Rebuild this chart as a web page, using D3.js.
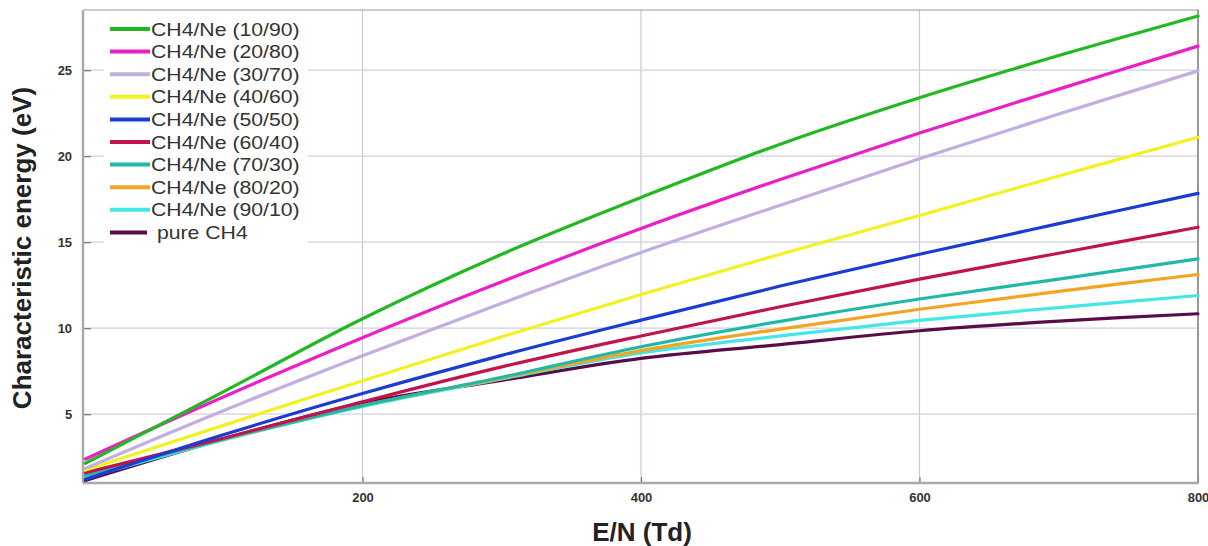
<!DOCTYPE html>
<html>
<head>
<meta charset="utf-8">
<script src="https://cdn.jsdelivr.net/npm/d3@7"></script>
<style>
  html, body { margin: 0; padding: 0; background: #fff; }
  svg { display: block; font-family: Arial, "Liberation Sans", sans-serif; }
</style>
</head>
<body>
<svg id="chart" width="1208" height="546"></svg>
<script>
// ---- data ----
const eN = [1, 100, 200, 300, 400, 500, 600, 700, 800];
const seriesNames = ["CH4/Ne (10/90)", "CH4/Ne (20/80)", "CH4/Ne (30/70)", "CH4/Ne (40/60)",
  "CH4/Ne (50/50)", "CH4/Ne (60/40)", "CH4/Ne (70/30)", "CH4/Ne (80/20)", "CH4/Ne (90/10)", " pure CH4"];
const s10_90 = [2.15, 6.3, 10.55, 14.3, 17.6, 20.7, 23.4, 25.85, 28.15];
const s20_80 = [2.4, 6.0, 9.45, 12.7, 15.8, 18.65, 21.35, 23.9, 26.4];
const s30_70 = [1.85, 5.2, 8.4, 11.45, 14.4, 17.15, 19.85, 22.45, 24.96];
const s40_60 = [1.75, 4.35, 6.95, 9.5, 11.96, 14.3, 16.55, 18.85, 21.1];
const s50_50 = [1.22, 3.8, 6.2, 8.42, 10.47, 12.45, 14.3, 16.08, 17.84];
const s60_40 = [1.6, 3.6, 5.72, 7.75, 9.55, 11.25, 12.85, 14.36, 15.87];
const s70_30 = [1.45, 3.55, 5.5, 7.15, 8.92, 10.4, 11.7, 12.85, 14.03];
const s80_20 = [1.6, 3.55, 5.5, 7.1, 8.7, 9.95, 11.1, 12.14, 13.12];
const s90_10 = [1.3, 3.5, 5.45, 7.05, 8.56, 9.55, 10.45, 11.2, 11.9];
const sPure = [1.15, 3.55, 5.65, 6.97, 8.25, 9.05, 9.85, 10.41, 10.84];
const seriesValues = [s10_90, s20_80, s30_70, s40_60, s50_50, s60_40, s70_30, s80_20, s90_10, sPure];
const seriesColors = ["#22b822", "#ec1ec8", "#c2aee0", "#f2f222", "#1a3cd2", "#c0144c",
  "#22b8a8", "#f2a424", "#44e6e6", "#5a0c48"];
const xTicks = [200, 400, 600, 800];
const yTicks = [5, 10, 15, 20, 25];

// ---- layout ----
const svg = d3.select("#chart");
const L = 84, R = 1198, T = 10, B = 483;
const x = d3.scaleLinear().domain([0, 800]).range([L, R]);
const y = d3.scaleLinear().domain([1, 28.5]).range([B, T]);

// grid
const grid = svg.append("g");
grid.selectAll("line.gx").data(xTicks.slice(0, 3)).enter().append("line")
  .attr("x1", d => x(d)).attr("x2", d => x(d)).attr("y1", T).attr("y2", B)
  .attr("stroke", "#c9c9dd").attr("stroke-width", 1.2);
grid.selectAll("line.gy").data(yTicks).enter().append("line")
  .attr("x1", L).attr("x2", R).attr("y1", d => y(d)).attr("y2", d => y(d))
  .attr("stroke", "#d0d0e2").attr("stroke-width", 1.2);

// legend background (covers grid)
svg.append("rect").attr("x", 104).attr("y", 13).attr("width", 204).attr("height", 232).attr("fill", "#fff");

// axes
const xAxis = d3.axisBottom(x).tickValues(xTicks).tickSize(-6).tickPadding(10);
const gx = svg.append("g").attr("transform", `translate(0,${B})`).call(xAxis);
const yAxis = d3.axisLeft(y).tickValues(yTicks).tickSize(-7).tickPadding(8);
const gy = svg.append("g").attr("transform", `translate(${L},0)`).call(yAxis);
[gx, gy].forEach(g => {
  g.select(".domain").remove();
  g.selectAll(".tick line").attr("stroke", "#777").attr("stroke-width", 1.2);
  g.selectAll(".tick text").attr("fill", "#333").attr("font-size", 13).attr("font-weight", "bold")
    .attr("font-family", "Arial, 'Liberation Sans', sans-serif");
});
gy.selectAll(".tick text").attr("dx", "-0.3em");

// frame
svg.append("line").attr("x1", L).attr("x2", R + 1).attr("y1", T).attr("y2", T).attr("stroke", "#999").attr("stroke-width", 1.2);
svg.append("line").attr("x1", R).attr("x2", R).attr("y1", T).attr("y2", B).attr("stroke", "#999").attr("stroke-width", 2);
svg.append("line").attr("x1", L - 1).attr("x2", R + 1).attr("y1", B).attr("y2", B).attr("stroke", "#aaa").attr("stroke-width", 2.5);
svg.append("line").attr("x1", L - 1).attr("x2", L - 1).attr("y1", T).attr("y2", B).attr("stroke", "#aaa").attr("stroke-width", 2.5);

// lines
const line = d3.line().x((d, i) => x(eN[i])).y(d => y(d)).curve(d3.curveCatmullRom.alpha(0.5));
const order = d3.range(seriesValues.length).reverse();
svg.append("g").selectAll("path").data(order).enter().append("path")
  .attr("d", i => line(seriesValues[i]))
  .attr("fill", "none").attr("stroke", i => seriesColors[i]).attr("stroke-width", 3.2)
  .attr("stroke-linejoin", "round").attr("stroke-linecap", "round");

// legend
const lg = svg.append("g");
const rowY = i => 29 + i * 22.6;
lg.selectAll("line").data(seriesNames).enter().append("line")
  .attr("x1", 110).attr("x2", (d, i) => i === 9 ? 147 : 150)
  .attr("y1", (d, i) => rowY(i)).attr("y2", (d, i) => rowY(i))
  .attr("stroke", (d, i) => seriesColors[i]).attr("stroke-width", 4);
lg.selectAll("text").data(seriesNames).enter().append("text")
  .attr("transform", (d, i) => `translate(151,${rowY(i) + 6.5}) scale(1.18,1)`)
  .attr("font-size", 18).attr("fill", "#333").attr("xml:space", "preserve")
  .style("white-space", "pre")
  .text(d => d);

// axis titles
svg.append("text").attr("x", 642).attr("y", 541).attr("text-anchor", "middle")
  .attr("font-size", 26).attr("font-weight", "bold").attr("fill", "#222").text("E/N (Td)");
svg.append("text").attr("transform", "translate(31,248) rotate(-90)").attr("text-anchor", "middle")
  .attr("font-size", 26).attr("font-weight", "bold").attr("fill", "#222").text("Characteristic energy (eV)");
</script>
</body>
</html>
